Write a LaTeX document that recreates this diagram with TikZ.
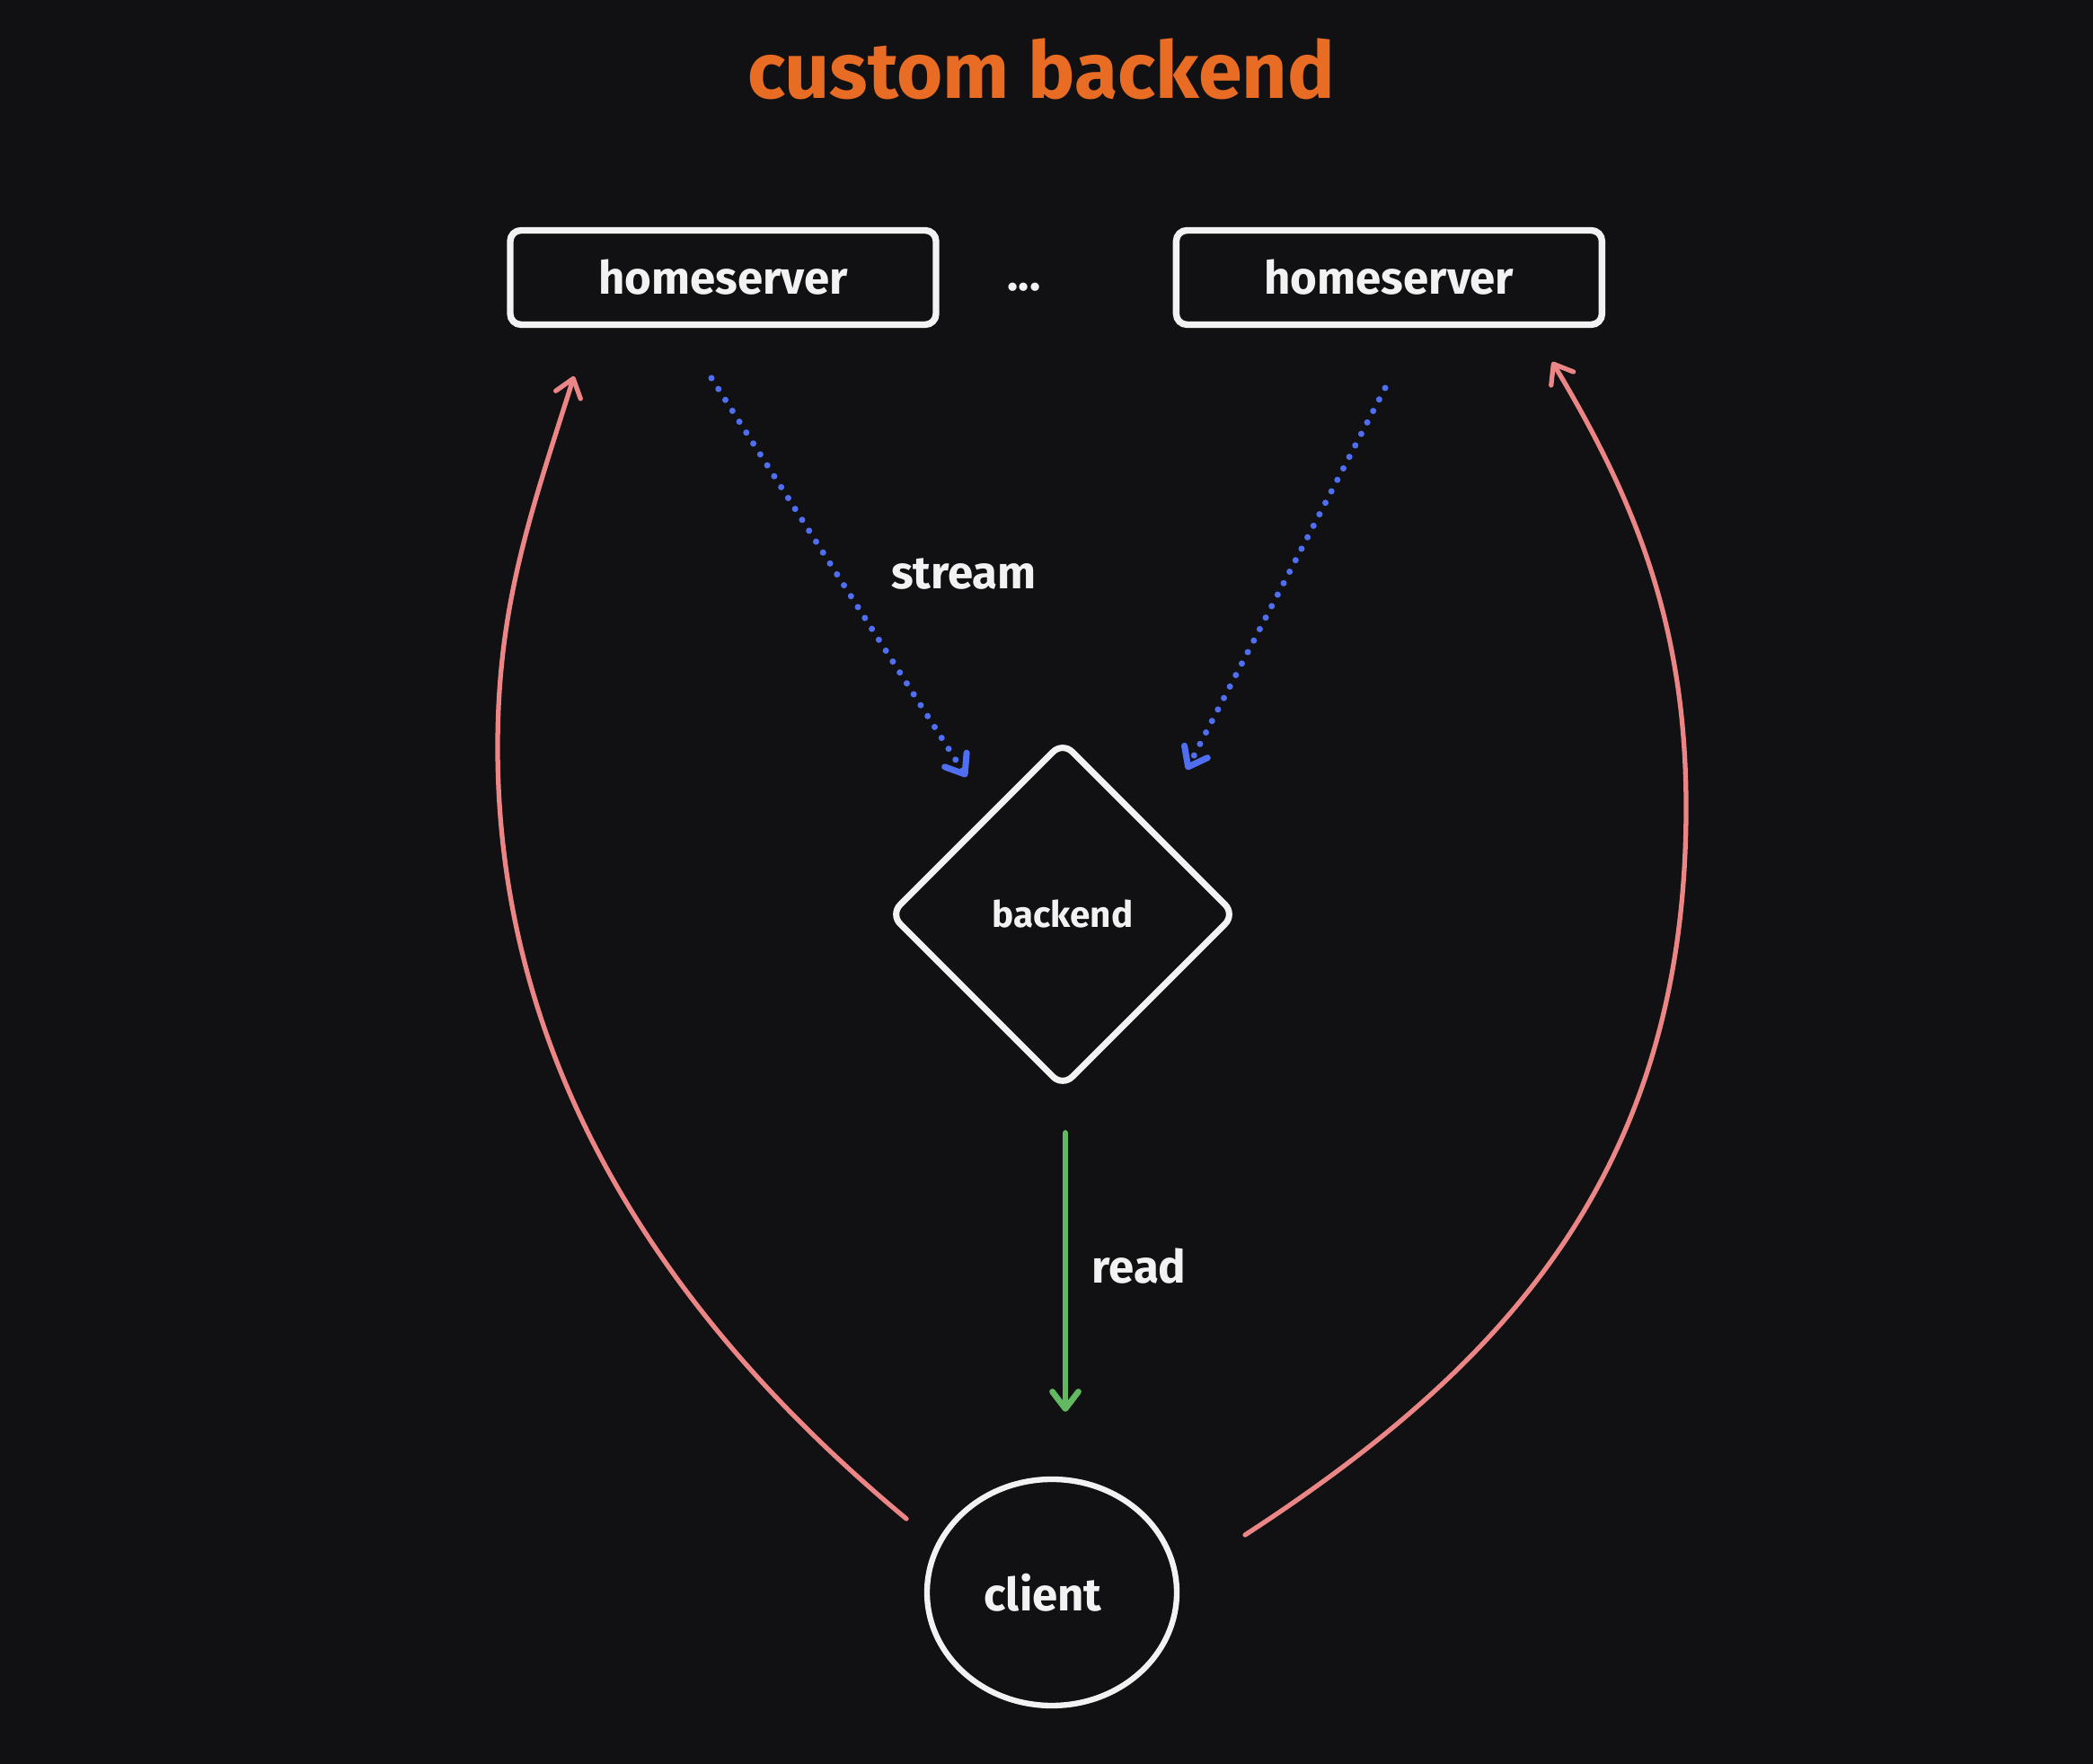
\documentclass[tikz,border=0pt]{standalone}
\usepackage{fontspec}
\setmainfont{Fira Sans}
\usetikzlibrary{arrows.meta,shapes.geometric,positioning}
\definecolor{bg}{HTML}{111113}
\definecolor{ink}{HTML}{F2F2F2}
\definecolor{titlecol}{HTML}{E86C24}
\definecolor{streamcol}{HTML}{4F6FF0}
\definecolor{readcol}{HTML}{62B962}
\definecolor{reqcol}{HTML}{EC8585}
\tikzset{
    label text/.style = {
        text = ink,
        font = \fontsize{14.5}{17}\selectfont\bfseries,
        },
    server/.style = {
        draw = ink,
        rectangle,
        rounded corners = 0.12cm,
        line width = 2.1pt,
        minimum width = 4.74cm,
        minimum height = 1.05cm,
        label text,
        },
    store/.style = {
        draw = ink,
        diamond,
        rounded corners = 0.15cm,
        line width = 2pt,
        minimum width = 3.86cm,
        minimum height = 3.86cm,
        text = ink,
        font = \fontsize{11.5}{14}\selectfont\bfseries,
        },
    user/.style = {
        draw = ink,
        ellipse,
        line width = 1.8pt,
        minimum width = 2.78cm,
        minimum height = 2.52cm,
        label text,
        },
    tip/.style = {
        -{Straight Barb[length=1.9mm, width=2.9mm, round]},
        line cap = round,
        },
    stream edge/.style = {
        tip,
        draw = streamcol,
        line width = 2pt,
        dash pattern = on 0pt off 4.1pt,
        },
    read edge/.style = {
        tip,
        draw = readcol,
        line width = 1.9pt,
        },
    request edge/.style = {
        tip,
        draw = reqcol,
        line width = 1.5pt,
        },
}

\begin{document}
\begin{tikzpicture}
    \useasboundingbox (0,0) rectangle (23.30,19.64);
    \fill[bg] (0,0) rectangle (23.30,19.64);

    \node[text=titlecol, font=\fontsize{25}{29}\selectfont\bfseries] (title) at (11.59,18.87) {custom backend};

    \node[server] (hs1) at (8.05,16.55) {homeserver};
    \node[server, right=2.6cm of hs1] (hs2) {homeserver};
    \node[label text] (dots) at (11.40,16.44) {...};

    \node[store] (backend) at (11.83,9.46) {backend};
    \node[user] (client) at (11.71,1.91) {\hspace*{-0.2cm}client};

    % free ends of the connectors
    \coordinate (s1) at (7.92,15.43);
    \coordinate (e1) at (10.76,10.99);
    \coordinate (s2) at (15.42,15.32);
    \coordinate (e2) at (13.21,11.07);
    \coordinate (l0) at (10.09,2.73);
    \coordinate (l1) at (6.39,15.45);
    \coordinate (r0) at (13.86,2.55);
    \coordinate (r1) at (17.28,15.61);

    \draw[stream edge] (s1) -- (e1);
    \draw[stream edge] (s2) -- (e2);
    \node[label text] (streamlabel) at (10.73,13.25) {stream};

    \draw[read edge] ([xshift=0.03cm]backend.south) ++(0,-0.47) -- ([xshift=0.15cm,yshift=0.72cm]client.north);
    \node[label text] (readlabel) at (12.68,5.54) {read};

    \draw[request edge] (l0) .. controls (7.6,4.8) and (5.54,7.6) .. (5.54,11.32)
        .. controls (5.54,12.9) and (5.90,13.9) .. (l1);
    \draw[request edge] (r0) .. controls (16.80,4.46) and (18.77,6.65) .. (18.77,10.65)
        .. controls (18.77,12.6) and (18.25,14.0) .. (r1);
\end{tikzpicture}
\end{document}
